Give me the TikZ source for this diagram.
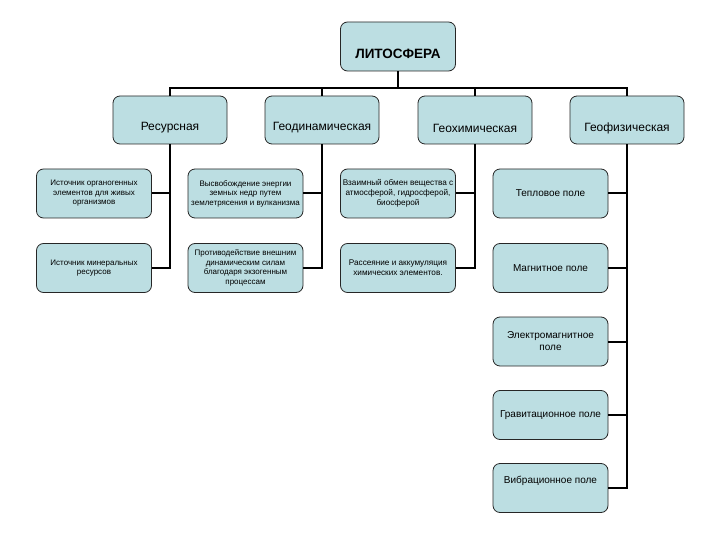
\documentclass[tikz,border=0pt]{standalone}
\usepackage{fontspec}
\setmainfont{Liberation Sans}
\definecolor{boxc}{RGB}{188,222,226}
\begin{document}
\begin{tikzpicture}[x=1pt,y=-1pt,
  box/.style={draw=black!85, line width=0.8pt, fill=boxc, rounded corners=7pt,
    minimum width=115pt, minimum height=49pt, inner sep=0pt, align=center},
  wire/.style={line width=2pt, black},
  ftop/.style={font=\fontsize{13.5}{16}\selectfont\bfseries},
  fone/.style={font=\fontsize{12}{14}\selectfont},
  fsm/.style={font=\fontsize{8}{9.5}\selectfont},
  fmid/.style={font=\fontsize{8.2}{9.8}\selectfont},
  fbig/.style={font=\fontsize{10}{12}\selectfont}]
\useasboundingbox (0,0) rectangle (720,540);
\coordinate (bus) at (0,88);
% boxes
\node[box] (top) at (398,46.5) {};
\node[ftop] (topt) at (398,54) {ЛИТОСФЕРА};
\node[box, minimum width=114pt, minimum height=48pt] (l1) at (170,120) {};
\node[box, minimum width=114pt, minimum height=48pt] (l2) at (322,120) {};
\node[box, minimum width=114pt, minimum height=48pt] (l3) at (475,120) {};
\node[box, minimum width=114pt, minimum height=48pt] (l4) at (627,120) {};
\node[fone] (l1t) at (170,128) {Ресурсная};
\node[fone] (l2t) at (322,128) {Геодинамическая};
\node[fone] (l3t) at (475,128) {Геохимическая};
\node[fone] (l4t) at (627,128) {Геофизическая};
% column 1
\node[box, fsm] (a1) at (94,193.5) {Источник органогенных\\элементов для живых\\организмов};
\node[box, fsm] (a2) at (94,268) {Источник минеральных\\ресурсов};
% column 2
\node[box, fsm] (b1) at (245.5,193.5) {Высвобождение энергии\\земных недр путем\\землетрясения и вулканизма};
\node[box, fsm] (b2) at (245.5,268) {Противодействие внешним\\динамическим силам\\благодаря экзогенным\\процессам};
% column 3
\node[box, fmid] (c1) at (398,193.5) {Взаимный обмен вещества с\\атмосферой, гидросферой,\\биосферой};
\node[box, fmid] (c2) at (398,268) {Рассеяние и аккумуляция\\химических элементов.};
% column 4
\node[box, fbig] (d1) at (550.5,193.5) {Тепловое поле};
\node[box, fbig] (d2) at (550.5,268) {Магнитное поле};
\node[box, fbig] (d3) at (550.5,341.5) {Электромагнитное\\поле};
\node[box, fbig] (d4) at (550.5,415) {Гравитационное поле};
\node[box] (d5) at (550.5,488) {};
\node[fbig] (d5t) at (550.5,481) {Вибрационное поле};
% wires
\draw[wire] (top.south) -- (top.south |- bus);
\draw[wire] (l1.north) -- (l1.north |- bus) -- (l4.north |- bus) -- (l4.north);
\draw[wire] (l2.north) -- (l2.north |- bus);
\draw[wire] (l3.north) -- (l3.north |- bus);
\draw[wire] (l1.south) |- (a2.east);
\draw[wire] (a1.east) -- (a1.east -| l1.south);
\draw[wire] (l2.south) |- (b2.east);
\draw[wire] (b1.east) -- (b1.east -| l2.south);
\draw[wire] (l3.south) |- (c2.east);
\draw[wire] (c1.east) -- (c1.east -| l3.south);
\draw[wire] (l4.south) |- (d5.east);
\draw[wire] (d1.east) -- (d1.east -| l4.south);
\draw[wire] (d2.east) -- (d2.east -| l4.south);
\draw[wire] (d3.east) -- (d3.east -| l4.south);
\draw[wire] (d4.east) -- (d4.east -| l4.south);
\end{tikzpicture}
\end{document}
